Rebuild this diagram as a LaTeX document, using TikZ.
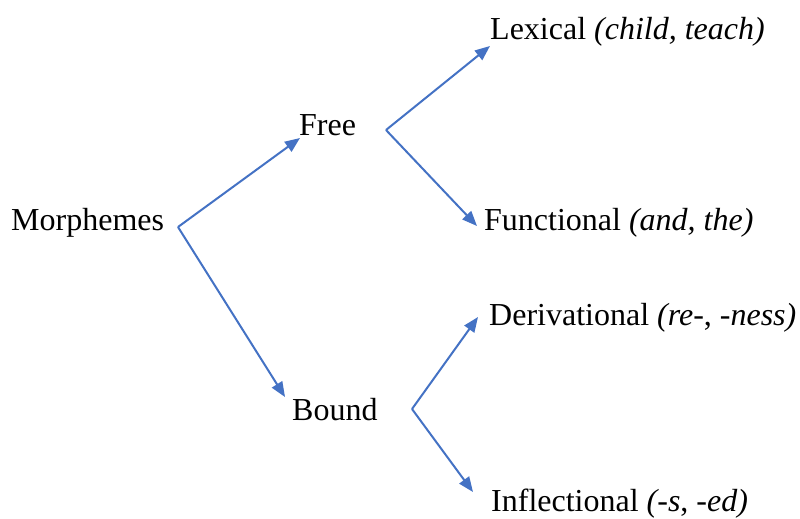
\documentclass[tikz,border=0pt]{standalone}
\usepackage{fontspec}
\setmainfont{Liberation Serif}
\usetikzlibrary{arrows.meta}
\usetikzlibrary{positioning}

\definecolor{linkblue}{HTML}{4472C4}

\tikzset{
  lbl/.style={anchor=base west, inner sep=0pt, font=\fontsize{32}{38}\selectfont},
  link/.style={draw=linkblue, line width=2pt, -{Triangle[length=15pt,width=12pt]}}
}

\begin{document}
\begin{tikzpicture}[x=1pt,y=-1pt]
  \useasboundingbox (0,0) rectangle (800,519);

	%words
    \foreach \x/\y/\txt/\name in {11/230/Morphemes/morph, 299/135/Free/free, 292/420/Bound/bound}{
         \node[lbl] (\name) at (\x,\y) {\txt};
    }

    \foreach \x/\y/\txt/\name in {490/40/{Lexical \textit{(child, teach)}}/lex,
                                  484/230/{Functional \textit{(and, the)}}/func,
                                  489/325/{Derivational \textit{(re-}, \textit{-ness)}}/deriv,
                                  491/511/{Inflectional \textit{(-s}, \textit{-ed)}}/infl}{
         \node[lbl] (\name) at (\x,\y) {\txt};
    }

	%junctions and tips
 \coordinate (jmorph) at (178,227);
 \coordinate (jfree) at (386,130);
 \coordinate (jbound) at (412,409);

 \coordinate (tfree) at (300,138);
 \coordinate (tbound) at (285,397);
 \coordinate (tlex) at (490,46);
 \coordinate (tfunc) at (477,226);
 \coordinate (tderiv) at (478,317);
 \coordinate (tinfl) at (473,492);

	%arrows
    \foreach \from/\to in {jmorph/tfree, jmorph/tbound, jfree/tlex, jfree/tfunc, jbound/tderiv, jbound/tinfl}{
         \draw[link] (\from) -- (\to);
    }

\end{tikzpicture}
\end{document}
